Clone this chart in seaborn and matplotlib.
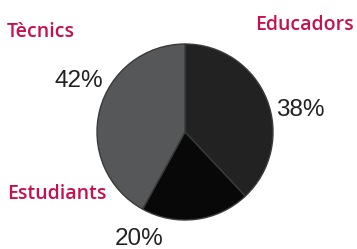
import matplotlib
matplotlib.use("Agg")
import matplotlib.pyplot as plt
import seaborn as sns

categories = ["Educadors", "Estudiants", "Tècnics"]
values = [38, 20, 42]
pct_labels = ["38%", "20%", "42%"]
colors = ["#222222", "#080808", "#555759"]

sns.set_theme(style="white")
plt.rcParams['font.family'] = ['Open Sans', 'DejaVu Sans']

W, H = 357, 249
fig = plt.figure(figsize=(W / 100, H / 100), dpi=100)
ax = fig.add_axes([0, 0, 1, 1])

ax.pie(values, colors=colors, startangle=90, counterclock=False,
       center=(185, H - 132), radius=88,
       wedgeprops=dict(edgecolor="#3a3a3a", linewidth=1.0))
ax.set_xlim(0, W)
ax.set_ylim(0, H)
ax.set_aspect('equal')
ax.axis('off')

label_color = "#c8104f"
name_pos = {"Tècnics": (7, 37, 'left'), "Educadors": (354, 30, 'right'),
            "Estudiants": (7, 199, 'left')}
for name in categories:
    x, y, ha = name_pos[name]
    ax.text(x, H - y, name, color=label_color, fontsize=14, fontweight='semibold',
            ha=ha, va='baseline', family=['Open Sans', 'DejaVu Sans'])

pct_pos = [(300, 116), (139, 245), (79, 87)]
for lab, (x, y) in zip(pct_labels, pct_pos):
    ax.text(x, H - y, lab, color="#222222", fontsize=17.5, ha='center', va='baseline',
            family=['Liberation Sans', 'DejaVu Sans'])

fig.savefig("out.png", dpi=100)
